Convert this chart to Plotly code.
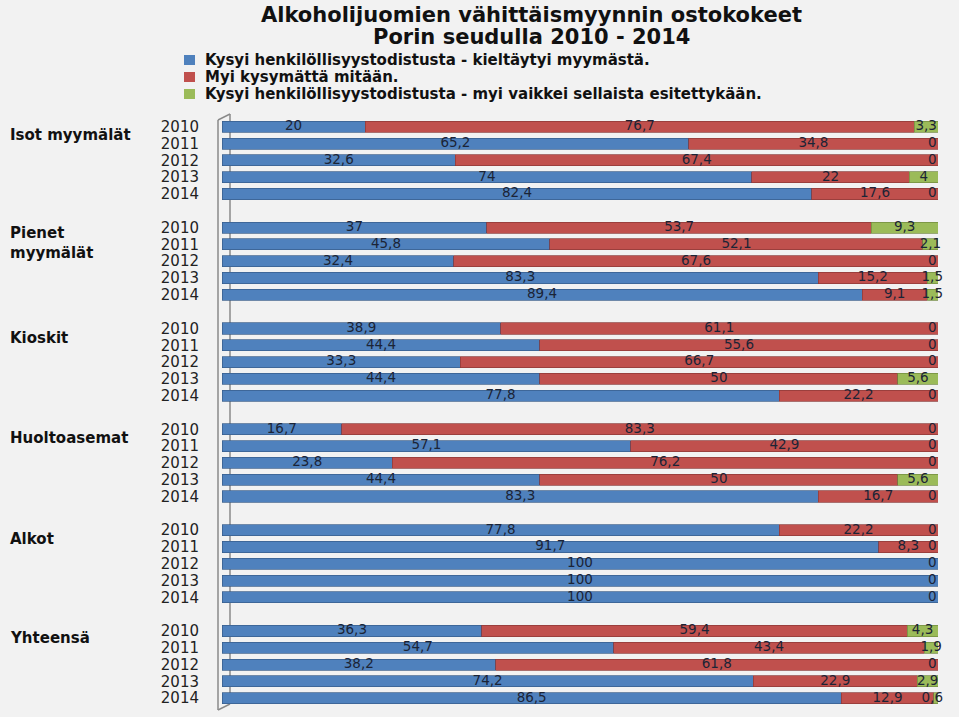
import plotly.graph_objects as go

groups = ["Isot myymälät", "Pienet<br>myymälät", "Kioskit", "Huoltoasemat", "Alkot", "Yhteensä"]
years = ["2010", "2011", "2012", "2013", "2014"]
series_names = [
    "Kysyi henkilöllisyystodistusta - kieltäytyi myymästä.",
    "Myi kysymättä mitään.",
    "Kysyi henkilöllisyystodistusta - myi vaikkei sellaista esitettykään.",
]
title_lines = ["Alkoholijuomien vähittäismyynnin ostokokeet", "Porin seudulla 2010 - 2014"]
# values per group, years 2010..2014
asked_refused = [20, 65.2, 32.6, 74, 82.4,
                 37, 45.8, 32.4, 83.3, 89.4,
                 38.9, 44.4, 33.3, 44.4, 77.8,
                 16.7, 57.1, 23.8, 44.4, 83.3,
                 77.8, 91.7, 100, 100, 100,
                 36.3, 54.7, 38.2, 74.2, 86.5]
sold_no_ask = [76.7, 34.8, 67.4, 22, 17.6,
               53.7, 52.1, 67.6, 15.2, 9.1,
               61.1, 55.6, 66.7, 50, 22.2,
               83.3, 42.9, 76.2, 50, 16.7,
               22.2, 8.3, 0, 0, 0,
               59.4, 43.4, 61.8, 22.9, 12.9]
asked_sold = [3.3, 0, 0, 4, 0,
              9.3, 2.1, 0, 1.5, 1.5,
              0, 0, 0, 5.6, 0,
              0, 0, 0, 5.6, 0,
              0, 0, 0, 0, 0,
              4.3, 1.9, 0, 2.9, 0.6]

colors = ["#4f81bd", "#c0504d", "#9bbb59"]
edge = ["#385d8a", "#8c3836", "#71893f"]
FONT = "DejaVu Sans"
TXT = "#1b2436"
BG = "#f2f2f2"

W, H = 959, 717
SL, SR, ST, SB = 222, 938, 115, 710   # plot area in page pixels
L, R, T, B = SL, W - SR, ST, H - SB


def px(x):
    return (x - SL) / (SR - SL)


def py(y):
    return (SB - y) / (SB - ST)


def fmt(v):
    return f"{v:g}".replace(".", ",")


slots = []
for gi in range(len(groups)):
    for yi in range(len(years)):
        slots.append(gi * 6 + yi)

fig = go.Figure()
series = [asked_refused, sold_no_ask, asked_sold]
for i, vals in enumerate(series):
    fig.add_trace(go.Bar(
        y=slots, x=vals, orientation="h", name=series_names[i],
        marker=dict(color=colors[i], line=dict(color=edge[i], width=0.7)),
        width=0.66, showlegend=False, hoverinfo="x+name",
    ))

# data labels
bx, bt, by = [], [], []
rx, rt, ry = [], [], []
gx, gt, gy = [], [], []
for k, s in enumerate(slots):
    a, b, c = asked_refused[k], sold_no_ask[k], asked_sold[k]
    if a > 0:
        bx.append(a / 2); bt.append(fmt(a)); by.append(s)
    if b > 0:
        rx.append(a + b / 2); rt.append(fmt(b)); ry.append(s)
    gx.append(min(a + b + c / 2, 99.2)); gt.append(fmt(c)); gy.append(s)

for xs, ts, ys in [(bx, bt, by), (rx, rt, ry), (gx, gt, gy)]:
    fig.add_trace(go.Scatter(
        x=xs, y=ys, text=ts, mode="text", showlegend=False, hoverinfo="skip",
        cliponaxis=False,
        textfont=dict(family=FONT, size=13.5, color=TXT),
    ))

annotations = []
# title lines
for i, (line, yy) in enumerate(zip(title_lines, [15, 37])):
    annotations.append(dict(
        text=line, xref="paper", yref="paper", x=px(531), y=py(yy),
        xanchor="center", yanchor="middle", showarrow=False,
        font=dict(family=FONT, size=21, color="#111111", weight="bold"),
    ))

# group labels
group_offsets = [0.5, 0.9, 0.55, 0.5, 0.5, 0.4]
for gi, g in enumerate(groups):
    annotations.append(dict(
        text=g, xref="paper", yref="y", x=px(8), y=gi * 6 + group_offsets[gi],
        xanchor="left", yanchor="middle", showarrow=False, align="left",
        font=dict(family=FONT, size=15, color="#111111", weight="bold"),
    ))

# legend (manual)
shapes = []
leg_y = [60, 77, 94]
for i, name in enumerate(series_names):
    shapes.append(dict(type="rect", xref="paper", yref="paper",
                       x0=px(184), x1=px(195), y0=py(leg_y[i] + 5), y1=py(leg_y[i] - 5),
                       fillcolor=colors[i], line=dict(width=0)))
    annotations.append(dict(
        text=name, xref="paper", yref="paper", x=px(203), y=py(leg_y[i]),
        xanchor="left", yanchor="middle", showarrow=False,
        font=dict(family=FONT, size=15, color="#111111", weight="bold"),
    ))

# 3D wall outline
wall = "#8a8a8a"
for (x0, y0, x1, y1) in [(218, 120, 218, 710), (230, 114, 230, 704),
                         (218, 120, 230, 114), (218, 710, 230, 704)]:
    shapes.append(dict(type="line", xref="paper", yref="paper", layer="below",
                       x0=px(x0), y0=py(y0), x1=px(x1), y1=py(y1),
                       line=dict(color=wall, width=1.5)))

fig.update_layout(
    width=W, height=H,
    margin=dict(l=L, r=R, t=T, b=B),
    paper_bgcolor=BG, plot_bgcolor=BG,
    barmode="stack",
    xaxis=dict(range=[0, 100], visible=False, fixedrange=True),
    yaxis=dict(
        range=[34.7, -0.7], tickmode="array", tickvals=slots,
        ticktext=[years[s % 6] for s in slots],
        showgrid=False, zeroline=False, showline=False, ticks="",
        ticklabelstandoff=22,
        tickfont=dict(family=FONT, size=15, color="#222222"),
    ),
    annotations=annotations, shapes=shapes,
    font=dict(family=FONT),
)

fig.write_html(
    "out.html",
    config={"displayModeBar": False},
    post_script="document.body.style.margin='0';document.body.style.background='" + BG + "';",
)
